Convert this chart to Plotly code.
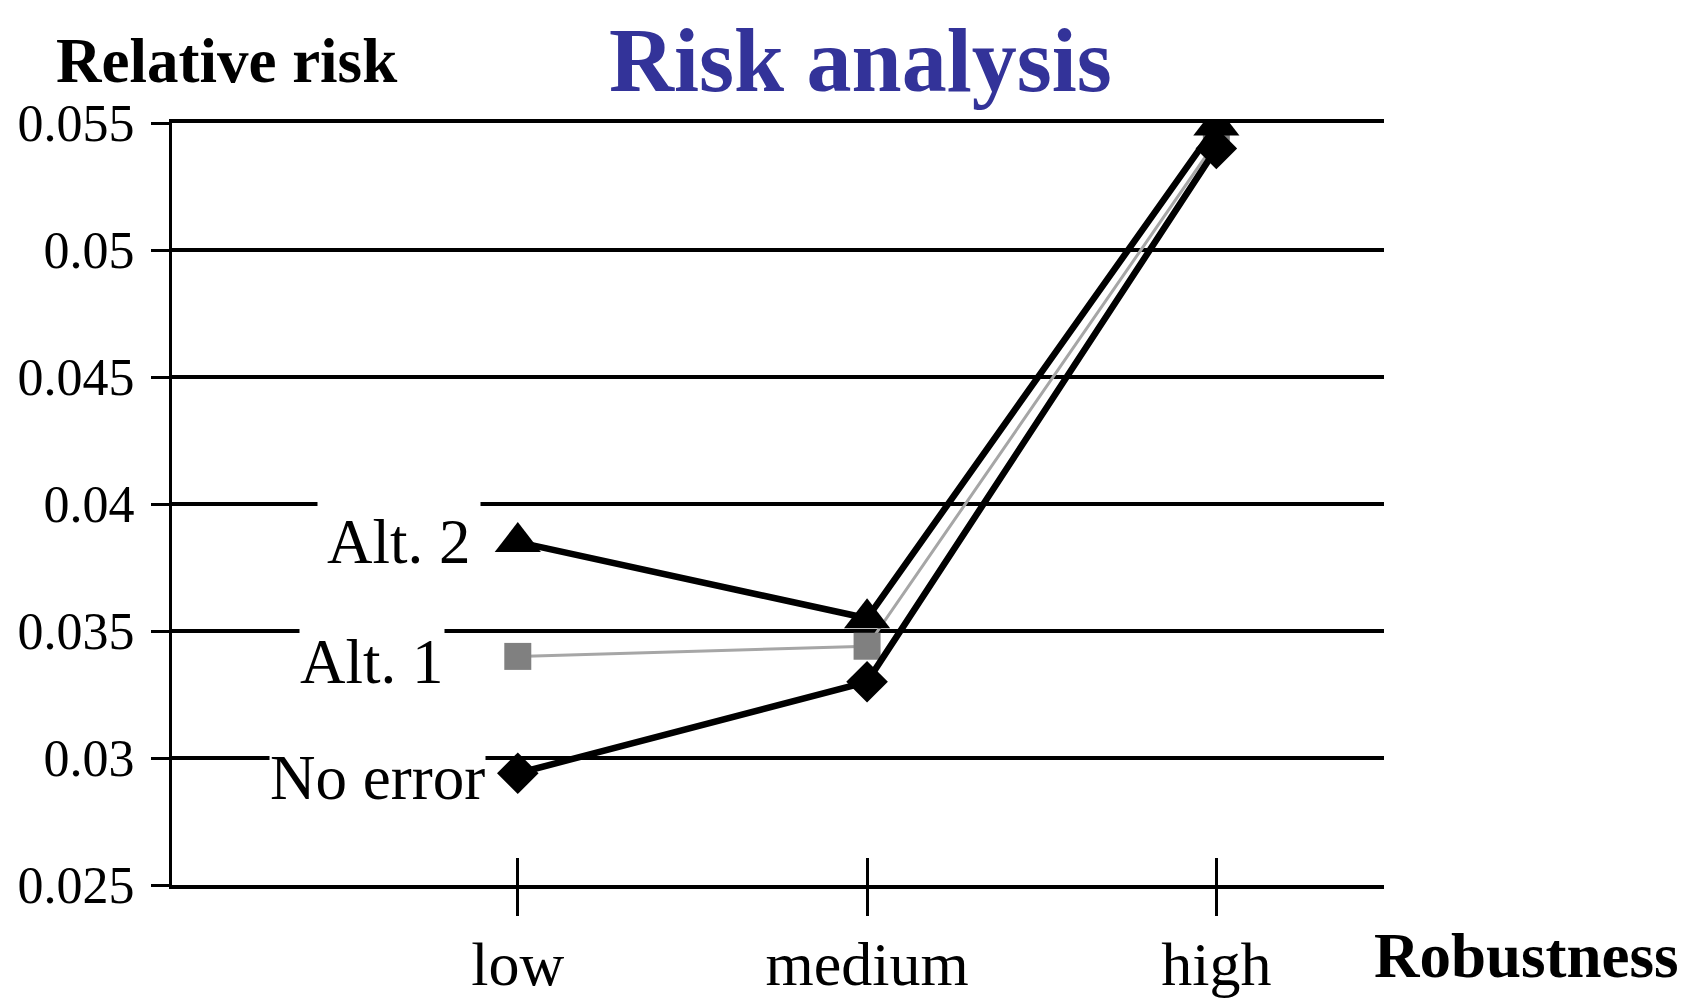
import plotly.graph_objects as go

categories = ["low", "medium", "high"]
no_error = [0.0294, 0.0330, 0.0540]
alt1 = [0.0340, 0.0344, 0.0543]
alt2 = [0.0385, 0.0355, 0.0549]
y_ticks = [0.025, 0.03, 0.035, 0.04, 0.045, 0.05, 0.055]
y_tick_text = ["0.025", "0.03", "0.035", "0.04", "0.045", "0.05", "0.055"]

FONT = "Liberation Serif, Times New Roman, serif"
idx = list(range(len(categories)))

fig = go.Figure()
fig.add_trace(go.Scatter(x=idx, y=alt1, mode="lines+markers", name="Alt. 1",
                         line=dict(color="#a6a6a6", width=3),
                         marker=dict(symbol="square", size=27, color="#808080")))
fig.add_trace(go.Scatter(x=idx, y=no_error, mode="lines+markers", name="No error",
                         line=dict(color="black", width=6.5),
                         marker=dict(symbol="diamond", size=32, color="black")))
fig.add_trace(go.Scatter(x=idx, y=alt2, mode="lines+markers", name="Alt. 2",
                         line=dict(color="black", width=6.5),
                         marker=dict(symbol="triangle-up", size=40, color="black")))
# invisible trace on overlay axis for crossing ticks + category labels
fig.add_trace(go.Scatter(x=idx, y=no_error, xaxis="x2", mode="markers",
                         marker=dict(opacity=0), showlegend=False, hoverinfo="skip"))

xr = [-0.99, 2.48]
fig.update_layout(
    template="none",
    width=1684, height=990,
    margin=dict(l=164, r=308, t=115, b=113, autoexpand=False),
    paper_bgcolor="white", plot_bgcolor="white",
    showlegend=False,
    font=dict(family=FONT, color="black"),
    xaxis=dict(range=xr, tickmode="array", tickvals=idx,
               ticks="outside", ticklen=27, tickwidth=3, tickcolor="black",
               showticklabels=False,
               showgrid=False, zeroline=False, showline=True, linecolor="black",
               linewidth=3.5, mirror=True, automargin=False),
    xaxis2=dict(range=xr, overlaying="x", tickmode="array", tickvals=idx, ticktext=categories,
                ticks="inside", ticklen=27, tickwidth=3, tickcolor="black",
                showticklabels=True, tickfont=dict(size=62, family=FONT),
                ticklabelstandoff=37,
                showgrid=False, zeroline=False, showline=False,
                side="bottom", anchor="y", automargin=False),
    yaxis=dict(range=[0.025, 0.055], tickmode="array", tickvals=y_ticks, ticktext=y_tick_text,
               ticks="outside", ticklen=18, tickwidth=3, tickcolor="black",
               showgrid=True, gridcolor="black", gridwidth=3.5,
               zeroline=False, showline=True, linecolor="black", linewidth=3,
               automargin=False,
               tickfont=dict(size=52, family=FONT), ticklabelstandoff=6),
)

ann = [
    dict(text="Alt. 2", y=alt2[0], xshift=-46, yshift=0, pad=9),
    dict(text="Alt. 1", y=alt1[0], xshift=-73, yshift=-6, pad=0),
    dict(text="No error", y=no_error[0], xshift=-32, yshift=-5, pad=0),
]
for a in ann:
    fig.add_annotation(x=0, y=a["y"], xref="x", yref="y", text=a["text"], showarrow=False,
                       xanchor="right", yanchor="middle", xshift=a["xshift"] + a["pad"],
                       yshift=a["yshift"],
                       bgcolor="white", borderpad=a["pad"],
                       font=dict(size=63, family=FONT, color="black"))

fig.add_annotation(x=0.5677, y=1.15, xref="paper", yref="paper", text="<b>Risk analysis</b>",
                   showarrow=False, xanchor="center", yanchor="top",
                   font=dict(size=90, family=FONT, color="#333399"))
fig.add_annotation(x=-0.0974, y=1.081, xref="paper", yref="paper", text="<b>Relative risk</b>",
                   showarrow=False, xanchor="left", yanchor="middle",
                   font=dict(size=63, family=FONT, color="black"))
fig.add_annotation(x=0.99, y=-0.093, xref="paper", yref="paper", text="<b>Robustness</b>",
                   showarrow=False, xanchor="left", yanchor="middle",
                   font=dict(size=63, family=FONT, color="black"))

fig.write_html("out.html")
